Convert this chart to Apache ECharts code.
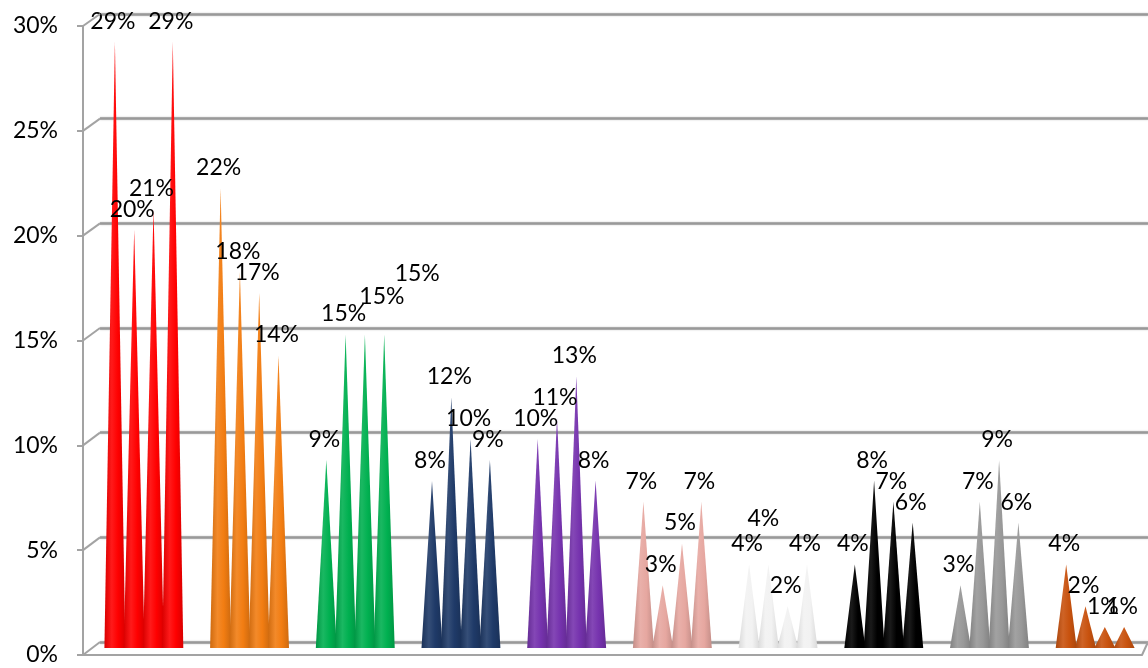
<!DOCTYPE html>
<html>
<head>
<meta charset="utf-8">
<script src="https://cdn.jsdelivr.net/npm/echarts@6/dist/echarts.min.js"></script>
<style>
html,body{margin:0;padding:0;background:#fff;}
#chart{width:1148px;height:668px;}
</style>
</head>
<body>
<div id="chart"></div>
<script>
// ---- data ----
const categories = ['1','2','3','4','5','6','7','8','9','10'];
const cone1 = [29, 22, 9, 8, 10, 7, 4, 4, 3, 4];
const cone2 = [20, 18, 15, 12, 11, 3, 4, 8, 7, 2];
const cone3 = [21, 17, 15, 10, 13, 5, 2, 7, 9, 1];
const cone4 = [29, 14, 15, 9, 8, 7, 4, 6, 6, 1];
const groupColors = ['#ff0000','#f27d12','#00b050','#1f3a68','#7633ae','#e6a7a0','#f2f2f2','#000000','#989898','#c8520e'];
const yTicks = [0, 5, 10, 15, 20, 25, 30];

// label nudges (seriesIndex-dataIndex) used where labels were moved apart in the original
const labelNudges = {'2-2':[17,-17], '3-2':[33,-40], '1-6':[-5,-25]};

function shade(hex, f){
  const n = parseInt(hex.slice(1),16);
  let r=(n>>16)&255,g=(n>>8)&255,b=n&255;
  if(f<0){ r=r*(1+f); g=g*(1+f); b=b*(1+f); }
  else { r=r+(255-r)*f; g=g+(255-g)*f; b=b+(255-b)*f; }
  return 'rgb('+Math.round(r)+','+Math.round(g)+','+Math.round(b)+')';
}
function coneFill(c){
  const dark = (c === '#f2f2f2') ? -0.1 : -0.15;
  return new echarts.graphic.LinearGradient(0,0,1,0,[
    {offset:0, color:shade(c,dark)},
    {offset:0.35, color:shade(c,0.1)},
    {offset:0.65, color:c},
    {offset:1, color:shade(c,dark)}
  ]);
}
function makeSeries(vals, si){
  return {
    type:'pictorialBar',
    xAxisIndex:0, yAxisIndex:0,
    symbol:'triangle',
    symbolSize:[21,'100%'],
    barWidth:19.3,
    barGap:'0%',
    barCategoryGap:'27%',
    data: vals.map((v,i)=>({value:v, itemStyle:{color:coneFill(groupColors[i])}})),
    label:{show:true, position:'top', distance:9, formatter:'{c}%',
      color:'#000', fontFamily:'Lato', fontSize:23},
    labelLayout:function(p){
      const n = labelNudges[si+'-'+p.dataIndex];
      return n ? {dx:n[0], dy:n[1]} : {dx:-2};
    }
  };
}

const chart = echarts.init(document.getElementById('chart'));
const lineColor = '#a3a3a3';
const option = {
  animation:false,
  backgroundColor:'#ffffff',
  grid:[
    {left:91, right:0, top:21, bottom:20},
    {left:100, right:0, top:14, bottom:26},
    {left:83, right:6, top:26, bottom:13}
  ],
  xAxis:[
    {gridIndex:0, type:'category', data:categories, show:false},
    {gridIndex:1, type:'value', show:false},
    {gridIndex:2, type:'value', min:0, max:1, axisLabel:{show:false}, axisTick:{show:false}, splitLine:{show:false},
      axisLine:{show:true, lineStyle:{color:lineColor, width:2}}}
  ],
  yAxis:[
    {gridIndex:0, type:'value', min:0, max:30, interval:5, show:false},
    {gridIndex:1, type:'value', min:0, max:30, interval:5,
      axisLine:{show:false}, axisTick:{show:false}, axisLabel:{show:false},
      splitLine:{show:true, lineStyle:{color:'#999999', width:2.5, shadowColor:'rgba(0,0,0,0.25)', shadowBlur:2}}},
    {gridIndex:2, type:'value', min:0, max:30, interval:5,
      axisLine:{show:true, lineStyle:{color:lineColor, width:2}},
      axisTick:{show:true, length:6, lineStyle:{color:lineColor, width:2}},
      splitLine:{show:false},
      axisLabel:{formatter:'{value}%', color:'#000', fontFamily:'Lato', fontSize:23, margin:25}}
  ],
  series:[makeSeries(cone1,0), makeSeries(cone2,1), makeSeries(cone3,2), makeSeries(cone4,3)]
};
chart.setOption(option);

// diagonal connectors between the front axis and the back wall
const diag = yTicks.map(v=>{
  const f = chart.convertToPixel({gridIndex:2}, [0, v]);
  const b = chart.convertToPixel({gridIndex:1}, [0, v]);
  return {type:'line', shape:{x1:f[0], y1:f[1], x2:b[0], y2:b[1]},
    style:{stroke:lineColor, lineWidth:2}, z:5};
});
const fr = chart.convertToPixel({gridIndex:2}, [1, 0]);
const br = chart.convertToPixel({gridIndex:1}, [0, 0]);
diag.push({type:'line', shape:{x1:fr[0], y1:fr[1], x2:1148, y2:br[1]},
  style:{stroke:lineColor, lineWidth:2}, z:5});
chart.setOption({graphic:diag});
</script>
</body>
</html>
